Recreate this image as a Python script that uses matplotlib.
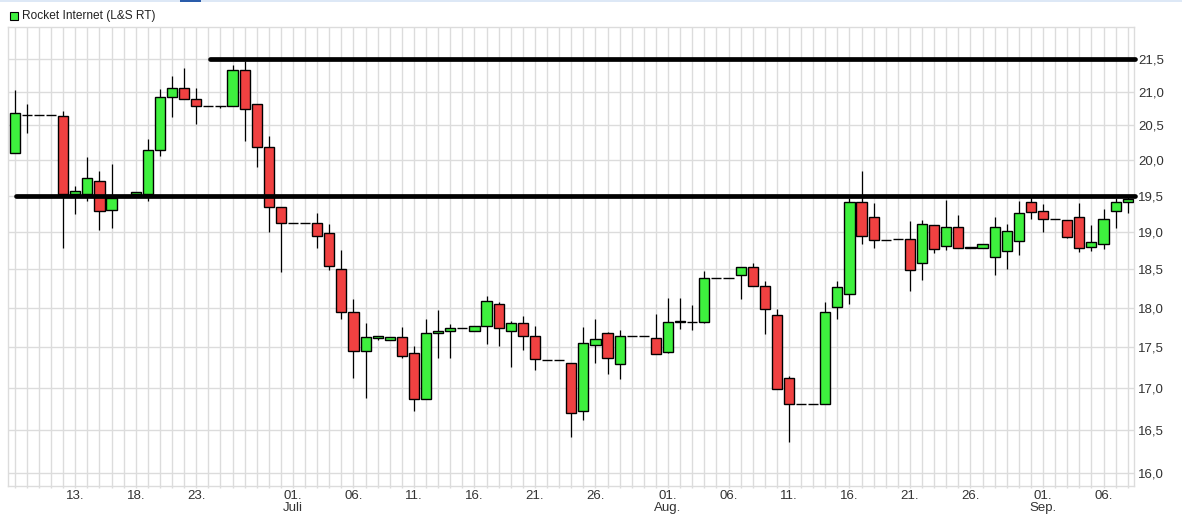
import datetime as dt
import matplotlib
matplotlib.use("Agg")
import matplotlib.pyplot as plt
import matplotlib.dates as mdates
from matplotlib.ticker import FixedLocator, FixedFormatter, NullLocator
from matplotlib.patches import Rectangle

# ---------------- data ----------------
dates = [
    "2017-06-08", "2017-06-09", "2017-06-10", "2017-06-11", "2017-06-12", "2017-06-13", "2017-06-14",
    "2017-06-15", "2017-06-16", "2017-06-18", "2017-06-19", "2017-06-20", "2017-06-21", "2017-06-22",
    "2017-06-23", "2017-06-24", "2017-06-25", "2017-06-26", "2017-06-27", "2017-06-28", "2017-06-29",
    "2017-06-30", "2017-07-01", "2017-07-02", "2017-07-03", "2017-07-04", "2017-07-05", "2017-07-06",
    "2017-07-07", "2017-07-08", "2017-07-09", "2017-07-10", "2017-07-11", "2017-07-12", "2017-07-13",
    "2017-07-14", "2017-07-15", "2017-07-16", "2017-07-17", "2017-07-18", "2017-07-19", "2017-07-20",
    "2017-07-21", "2017-07-22", "2017-07-23", "2017-07-24", "2017-07-25", "2017-07-26", "2017-07-27",
    "2017-07-28", "2017-07-29", "2017-07-30", "2017-07-31", "2017-08-01", "2017-08-02", "2017-08-03",
    "2017-08-04", "2017-08-05", "2017-08-06", "2017-08-07", "2017-08-08", "2017-08-09", "2017-08-10",
    "2017-08-11", "2017-08-12", "2017-08-13", "2017-08-14", "2017-08-15", "2017-08-16", "2017-08-17",
    "2017-08-18", "2017-08-19", "2017-08-20", "2017-08-21", "2017-08-22", "2017-08-23", "2017-08-24",
    "2017-08-25", "2017-08-26", "2017-08-27", "2017-08-28", "2017-08-29", "2017-08-30", "2017-08-31",
    "2017-09-01", "2017-09-02", "2017-09-03", "2017-09-04", "2017-09-05", "2017-09-06", "2017-09-07",
    "2017-09-08",
]
opens = [
    20.10, 20.655, 20.655, 20.65, 20.645, 19.52, 19.52,
    19.70, 19.30, 19.52, 19.52, 20.14, 20.92, 21.05,
    20.89, 20.78, 20.78, 20.79, 21.33, 20.81, 20.19,
    19.34, 19.12, 19.12, 19.12, 18.99, 18.51, 17.94,
    17.45, 17.62, 17.59, 17.63, 17.43, 16.86, 17.68,
    17.70, 17.74, 17.70, 17.77, 18.05, 17.70, 17.81,
    17.64, 17.34, 17.34, 17.31, 16.72, 17.53, 17.68,
    17.29, 17.64, 17.64, 17.62, 17.44, 17.82, 17.82,
    17.82, 18.38, 18.39, 18.43, 18.53, 18.28, 17.91,
    17.12, 16.81, 16.81, 16.81, 18.01, 18.18, 19.41,
    19.21, 18.89, 18.90, 18.90, 18.59, 19.09, 18.81,
    19.07, 18.80, 18.78, 18.66, 18.75, 18.88, 19.41,
    19.29, 19.17, 19.16, 19.20, 18.80, 18.84, 19.29,
    19.41,
]
highs = [
    21.03, 20.81, 20.655, 20.65, 20.71, 19.64, 20.04,
    19.84, 19.94, 19.55, 20.31, 21.04, 21.23, 21.36,
    21.06, 20.78, 20.78, 21.41, 21.47, 20.81, 20.35,
    19.34, 19.12, 19.12, 19.26, 19.11, 18.76, 18.11,
    17.81, 17.64, 17.63, 17.75, 17.52, 17.86, 17.97,
    17.79, 17.74, 17.77, 18.15, 18.08, 17.83, 17.89,
    17.77, 17.34, 17.34, 17.31, 17.76, 17.86, 17.69,
    17.72, 17.64, 17.64, 17.92, 18.13, 18.13, 18.04,
    18.48, 18.38, 18.39, 18.53, 18.58, 18.35, 17.99,
    17.14, 16.81, 16.81, 18.08, 18.35, 19.47, 19.85,
    19.40, 18.89, 18.90, 19.15, 19.16, 19.09, 19.44,
    19.23, 18.80, 18.84, 19.20, 19.11, 19.42, 19.48,
    19.38, 19.17, 19.16, 19.40, 19.09, 19.32, 19.47,
    19.49,
]
lows = [
    20.10, 20.39, 20.655, 20.65, 18.79, 19.25, 19.43,
    19.02, 19.05, 19.52, 19.43, 20.06, 20.63, 20.89,
    20.52, 20.78, 20.75, 20.79, 20.28, 19.90, 19.00,
    18.47, 19.12, 19.12, 18.79, 18.49, 17.86, 17.12,
    16.88, 17.59, 17.59, 17.37, 16.72, 16.86, 17.36,
    17.36, 17.74, 17.70, 17.54, 17.51, 17.26, 17.46,
    17.22, 17.34, 17.34, 16.41, 16.62, 17.30, 17.17,
    17.11, 17.64, 17.64, 17.41, 17.43, 17.73, 17.72,
    17.80, 18.38, 18.39, 18.11, 18.28, 17.67, 16.98,
    16.36, 16.81, 16.81, 16.81, 17.85, 18.05, 18.84,
    18.79, 18.89, 18.90, 18.22, 18.36, 18.72, 18.76,
    18.79, 18.78, 18.78, 18.43, 18.50, 18.69, 19.18,
    19.00, 19.17, 18.92, 18.73, 18.74, 18.77, 19.06,
    19.26,
]
closes = [
    20.69, 20.655, 20.655, 20.65, 19.52, 19.56, 19.75,
    19.28, 19.47, 19.55, 20.14, 20.92, 21.05, 20.89,
    20.78, 20.78, 20.78, 21.33, 20.74, 20.19, 19.34,
    19.12, 19.12, 19.12, 18.95, 18.54, 17.95, 17.45,
    17.63, 17.64, 17.63, 17.39, 16.86, 17.68, 17.70,
    17.74, 17.74, 17.77, 18.09, 17.74, 17.81, 17.64,
    17.35, 17.34, 17.34, 16.70, 17.55, 17.60, 17.36,
    17.64, 17.64, 17.64, 17.42, 17.82, 17.83, 17.82,
    18.38, 18.38, 18.39, 18.53, 18.28, 17.99, 16.98,
    16.81, 16.81, 16.81, 17.95, 18.27, 19.41, 18.95,
    18.89, 18.89, 18.90, 18.49, 19.11, 18.77, 19.07,
    18.79, 18.78, 18.84, 19.07, 19.01, 19.26, 19.27,
    19.17, 19.17, 18.93, 18.78, 18.87, 19.17, 19.41,
    19.45,
]

level_values = [21.5, 19.5]
level_starts = ["2017-06-24", "2017-06-08"]

y_ticks = [16.0, 16.5, 17.0, 17.5, 18.0, 18.5, 19.0, 19.5, 20.0, 20.5, 21.0, 21.5]
y_tick_labels = ["16,0", "16,5", "17,0", "17,5", "18,0", "18,5", "19,0", "19,5", "20,0", "20,5", "21,0", "21,5"]

x_tick_dates = ["2017-06-13", "2017-06-18", "2017-06-23", "2017-07-01", "2017-07-06", "2017-07-11",
                "2017-07-16", "2017-07-21", "2017-07-26", "2017-08-01", "2017-08-06", "2017-08-11",
                "2017-08-16", "2017-08-21", "2017-08-26", "2017-09-01", "2017-09-06"]
x_tick_labels = ["13.", "18.", "23.", "01.\nJuli", "06.", "11.", "16.", "21.", "26.", "01.\nAug.",
                 "06.", "11.", "16.", "21.", "26.", "01.\nSep.", "06."]

legend_label = "Rocket Internet (L&S RT)"

# ---------------- style ----------------
GREEN = "#3EF03E"
RED = "#F04141"
GRID = "#dcdcdc"
TXT = "#333333"
FONT = "Liberation Sans"

W, H = 1182, 522
fig = plt.figure(figsize=(W / 100, H / 100), dpi=100)
ax = fig.add_axes([8 / W, 1 - 486 / H, (1134 - 8) / W, (486 - 26.5) / H])

to_num = lambda s: mdates.date2num(dt.datetime.strptime(s, "%Y-%m-%d"))
x = [to_num(d) for d in dates]

ax.set_yscale("log")
ax.set_ylim(15.85, 22.0)
first = to_num("2017-06-08")
last = to_num("2017-09-08")
ax.set_xlim(first - 0.56, last + 0.52)

# wicks
ax.vlines(x, lows, highs, color="black", linewidth=0.9, zorder=3)
# bodies
for xi, o, c in zip(x, opens, closes):
    col = GREEN if c >= o else RED
    lo, hi = min(o, c), max(o, c)
    ax.add_patch(Rectangle((xi - 0.42, lo), 0.84, hi - lo, facecolor=col,
                           edgecolor="black", linewidth=1.0, zorder=4))

# horizontal levels
for v, s in zip(level_values, level_starts):
    ax.plot([to_num(s) + 0.1, last + 0.6], [v, v], color="black", linewidth=3.4,
            solid_capstyle="round", zorder=5, clip_on=False)

# y axis
ax.yaxis.set_major_locator(FixedLocator(y_ticks))
ax.yaxis.set_major_formatter(FixedFormatter(y_tick_labels))
ax.yaxis.set_minor_locator(NullLocator())
ax.yaxis.tick_right()
ax.tick_params(axis="y", which="major", length=0, pad=3, labelsize=9.5, labelcolor=TXT)

# x axis
ax.xaxis.set_major_locator(FixedLocator([to_num(d) for d in x_tick_dates]))
ax.xaxis.set_major_formatter(FixedFormatter(x_tick_labels))
ax.xaxis.set_minor_locator(mdates.DayLocator())
ax.tick_params(axis="x", which="both", length=1.6, color=GRID, width=1.0,
               labelsize=9.5, labelcolor=TXT, pad=1)
for lbl in ax.get_xticklabels() + ax.get_yticklabels():
    lbl.set_fontfamily(FONT)
for lbl in ax.get_xticklabels():
    lbl.set_linespacing(1.05)

ax.grid(True, axis="x", which="both", color=GRID, linewidth=1.0, zorder=0)
ax.grid(True, axis="y", which="major", color=GRID, linewidth=1.0, zorder=0)
ax.set_axisbelow(True)
for sp in ax.spines.values():
    sp.set_color(GRID)
    sp.set_linewidth(1.0)

# legend
fig.patches.append(Rectangle((10 / W, 1 - 19.5 / H), 7.5 / W, 7.5 / H, transform=fig.transFigure,
                             facecolor=GREEN, edgecolor="black", linewidth=0.8))
fig.text(22 / W, 1 - 15.5 / H, legend_label, fontsize=8.6, family=FONT, color="#222222",
         va="center", ha="left")

# top UI strip
fig.patches.append(Rectangle((0, 1 - 1.5 / H), 1, 1.5 / H, transform=fig.transFigure,
                             facecolor="#dde8f6", edgecolor="none"))
fig.patches.append(Rectangle((180 / W, 1 - 2 / H), 21 / W, 2 / H, transform=fig.transFigure,
                             facecolor="#2a5caa", edgecolor="none"))

fig.savefig("out.png", dpi=100)
